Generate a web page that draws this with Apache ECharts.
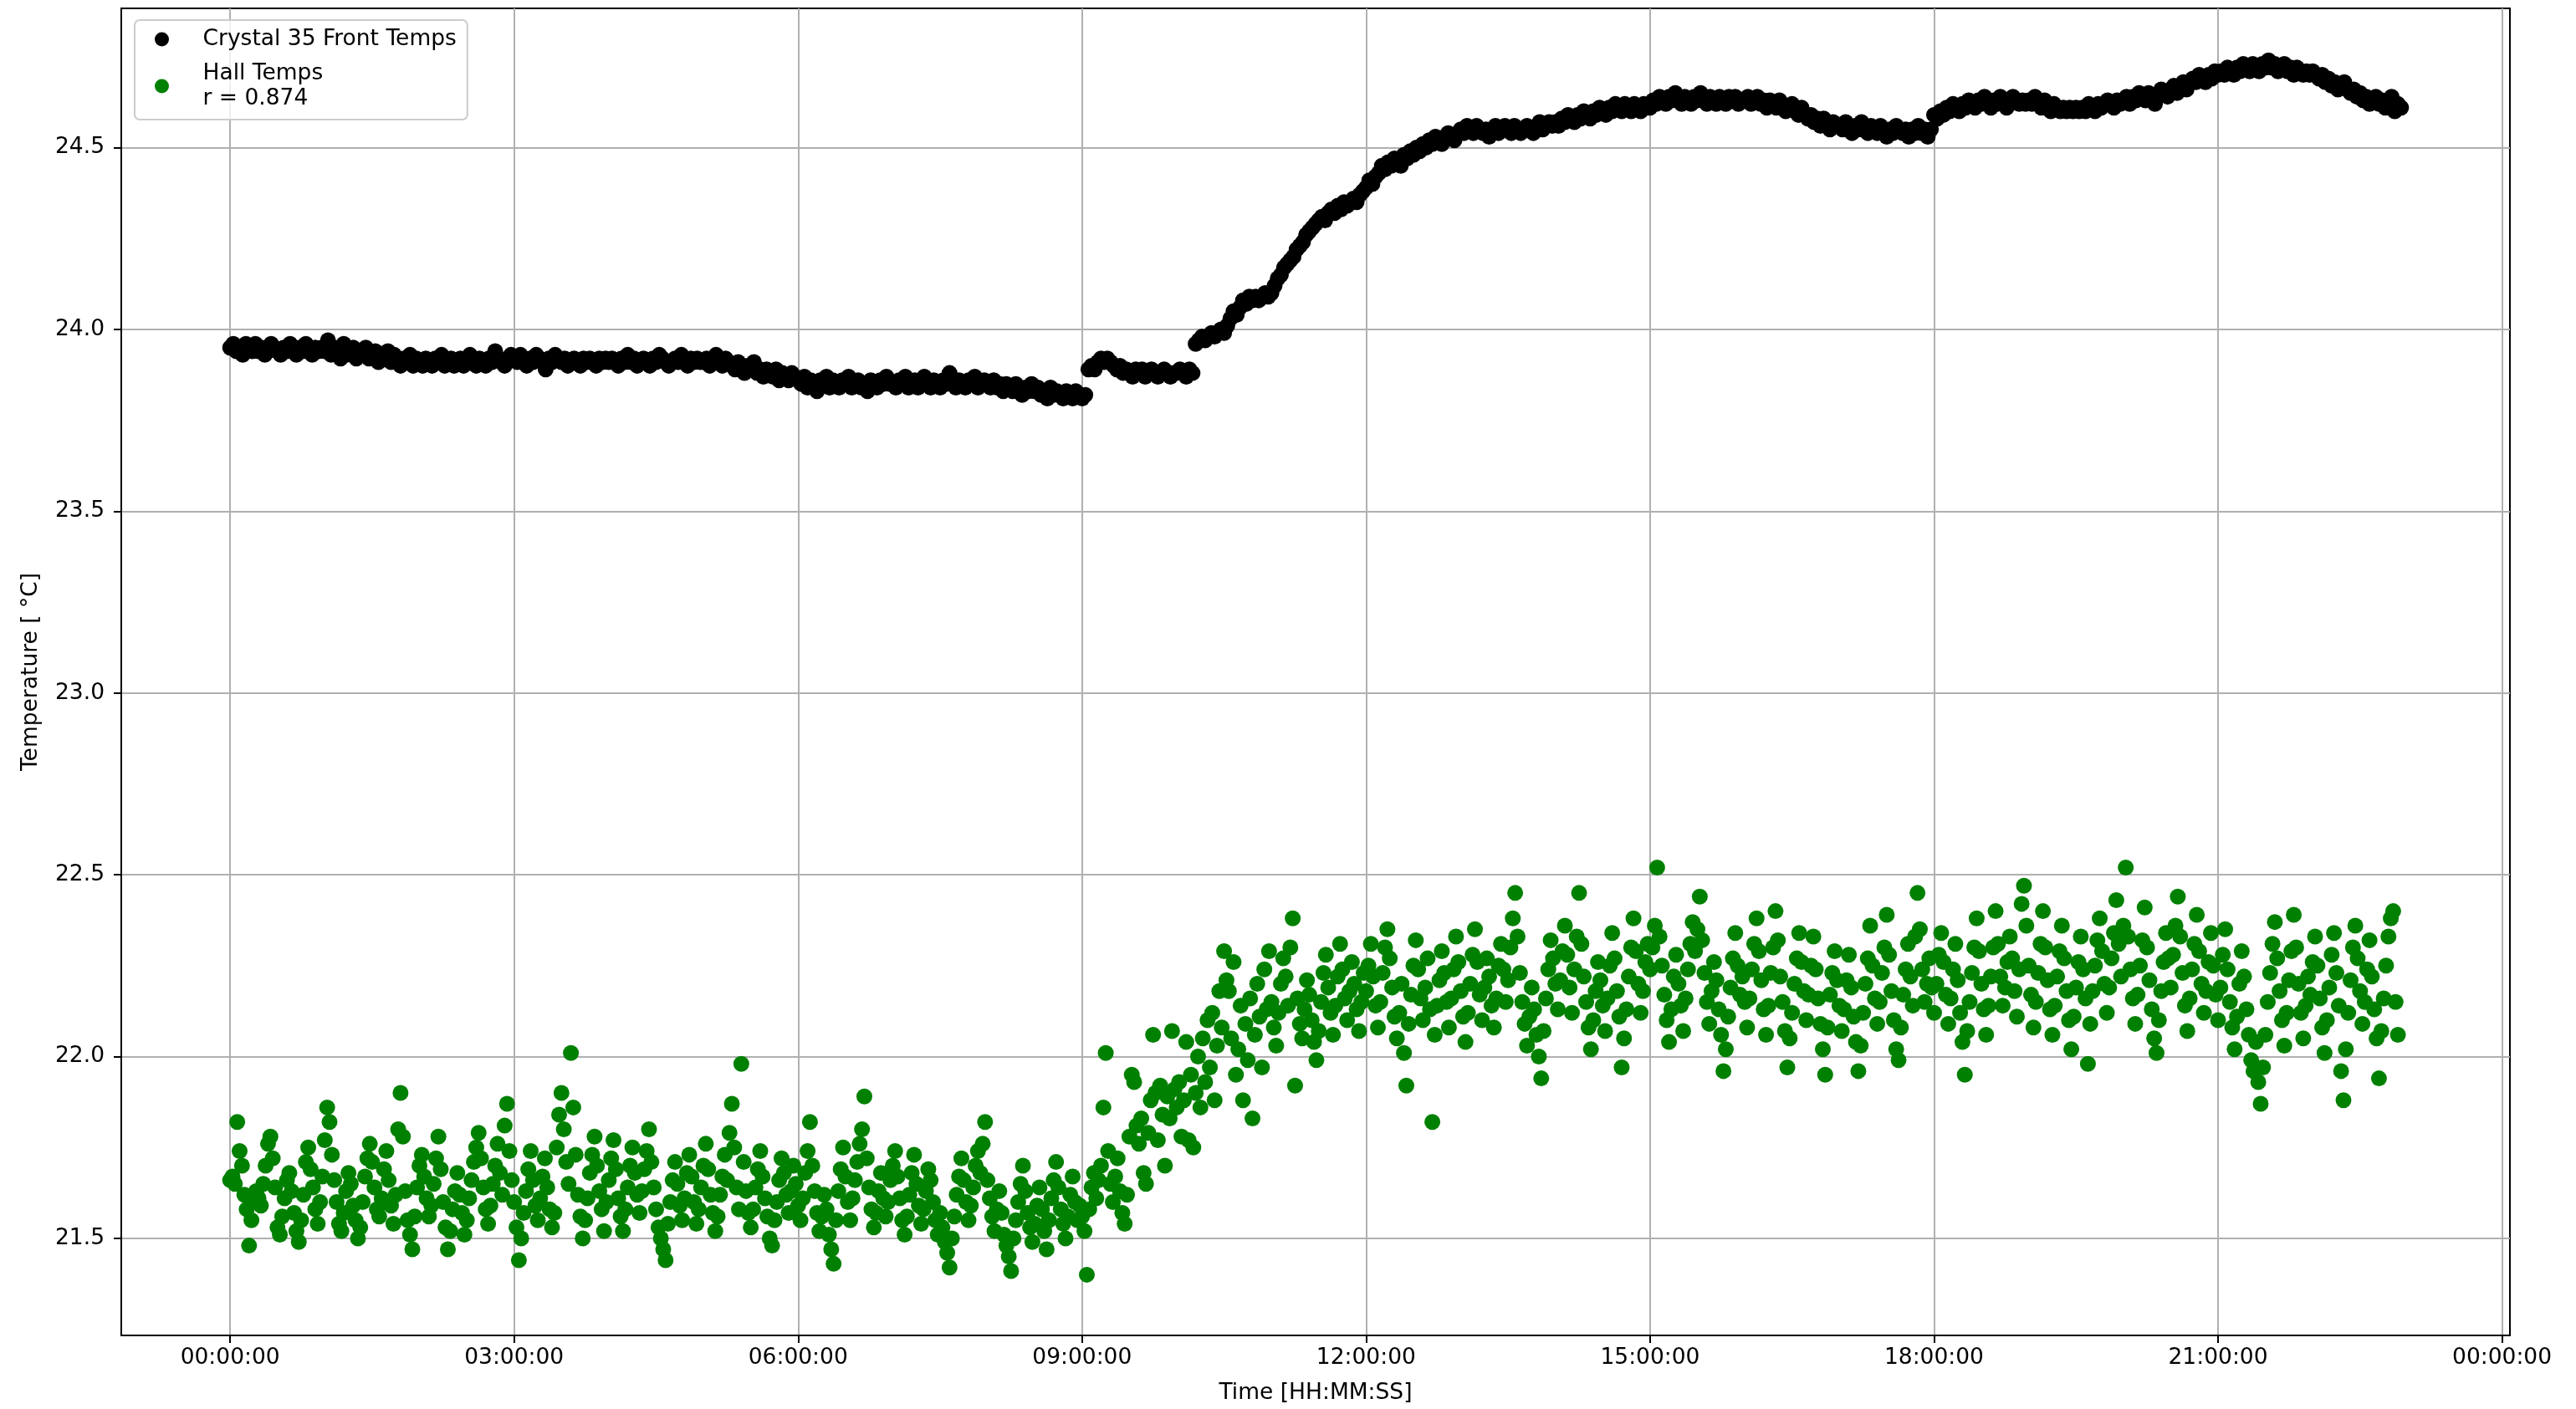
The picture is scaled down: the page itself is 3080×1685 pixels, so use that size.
<!DOCTYPE html>
<html>
<head>
<meta charset="utf-8">
<script src="https://cdn.jsdelivr.net/npm/echarts@6/dist/echarts.min.js"></script>
<style>html,body{margin:0;padding:0;background:#fff;}#c{width:3080px;height:1685px;}</style>
</head>
<body>
<div id="c"></div>
<script>
// Sampling intervals, minutes from 00:00:00
const CRYSTAL_STEP_MIN = 2;
const HALL_STEP_MIN = 1.5;

const crystalName = 'Crystal 35 Front Temps';
const hallName = 'Hall Temps\nr = 0.874';

// Crystal 35 front temperature, one row per hour (2-min samples)
const crystalTemps = [
23.95,23.96,23.94,23.95,23.93,23.96,23.95,23.94,23.96,23.94,23.95,23.93,23.94,23.96,23.95,23.94,23.93,23.95,23.94,23.96,23.94,23.93,23.95,23.94,23.96,23.94,23.93,23.95,23.94,23.95,
23.94,23.97,23.93,23.95,23.94,23.92,23.96,23.93,23.94,23.95,23.92,23.94,23.93,23.95,23.92,23.93,23.94,23.91,23.93,23.92,23.94,23.91,23.93,23.92,23.90,23.92,23.91,23.93,23.90,23.92,
23.91,23.90,23.92,23.91,23.90,23.92,23.91,23.93,23.90,23.91,23.92,23.90,23.91,23.92,23.90,23.91,23.93,23.91,23.90,23.92,23.91,23.90,23.92,23.91,23.94,23.92,23.91,23.90,23.92,23.93,
23.92,23.91,23.93,23.92,23.90,23.92,23.91,23.93,23.92,23.91,23.89,23.92,23.91,23.93,23.92,23.91,23.92,23.90,23.91,23.92,23.91,23.90,23.92,23.91,23.92,23.91,23.90,23.92,23.91,23.92,
23.91,23.92,23.91,23.90,23.92,23.91,23.93,23.91,23.92,23.90,23.91,23.92,23.91,23.90,23.92,23.91,23.93,23.92,23.91,23.90,23.91,23.92,23.91,23.93,23.91,23.90,23.92,23.91,23.92,23.91,
23.91,23.92,23.90,23.91,23.93,23.91,23.90,23.92,23.91,23.90,23.89,23.91,23.90,23.88,23.90,23.89,23.91,23.88,23.89,23.87,23.89,23.88,23.87,23.89,23.86,23.88,23.87,23.86,23.88,23.87,
23.86,23.85,23.87,23.84,23.86,23.85,23.83,23.86,23.85,23.87,23.84,23.86,23.85,23.84,23.86,23.85,23.87,23.84,23.85,23.86,23.84,23.85,23.83,23.86,23.85,23.84,23.86,23.85,23.87,23.85,
23.85,23.84,23.86,23.85,23.87,23.84,23.85,23.86,23.84,23.85,23.87,23.85,23.84,23.86,23.85,23.84,23.86,23.85,23.88,23.85,23.84,23.86,23.85,23.84,23.86,23.85,23.87,23.84,23.85,23.86,
23.85,23.84,23.86,23.84,23.85,23.83,23.85,23.84,23.83,23.85,23.84,23.82,23.84,23.83,23.85,23.83,23.84,23.82,23.83,23.81,23.84,23.82,23.83,23.82,23.81,23.83,23.82,23.81,23.83,23.82,
23.81,23.82,23.89,23.90,23.89,23.91,23.92,23.91,23.92,23.91,23.90,23.89,23.90,23.88,23.89,23.88,23.87,23.89,23.88,23.89,23.87,23.88,23.89,23.88,23.87,23.88,23.89,23.88,23.87,23.88,
23.88,23.89,23.88,23.87,23.89,23.88,23.96,23.97,23.98,23.97,23.98,23.99,23.98,23.99,24.00,23.99,24.01,24.03,24.05,24.04,24.06,24.08,24.07,24.09,24.08,24.09,24.08,24.09,24.10,24.09,
24.10,24.12,24.14,24.15,24.17,24.18,24.19,24.20,24.22,24.23,24.24,24.26,24.27,24.28,24.29,24.30,24.31,24.30,24.32,24.33,24.32,24.34,24.33,24.35,24.34,24.35,24.36,24.35,24.37,24.38,
24.39,24.41,24.40,24.42,24.43,24.45,24.44,24.46,24.45,24.47,24.46,24.45,24.48,24.47,24.49,24.48,24.50,24.49,24.51,24.50,24.52,24.51,24.53,24.52,24.51,24.53,24.54,24.53,24.52,24.54,
24.55,24.54,24.56,24.55,24.54,24.56,24.55,24.54,24.55,24.53,24.55,24.56,24.54,24.55,24.56,24.55,24.54,24.56,24.55,24.54,24.55,24.56,24.55,24.54,24.56,24.57,24.55,24.56,24.57,24.56,
24.57,24.56,24.58,24.57,24.59,24.58,24.57,24.59,24.58,24.60,24.59,24.58,24.60,24.59,24.61,24.60,24.59,24.61,24.60,24.62,24.61,24.60,24.62,24.61,24.60,24.62,24.61,24.60,24.62,24.61,
24.61,24.63,24.62,24.64,24.63,24.62,24.64,24.63,24.65,24.63,24.62,24.64,24.63,24.62,24.64,24.63,24.65,24.63,24.62,24.64,24.63,24.62,24.64,24.63,24.62,24.64,24.63,24.64,24.62,24.63,
24.63,24.64,24.62,24.63,24.64,24.62,24.63,24.61,24.63,24.62,24.61,24.63,24.62,24.60,24.61,24.62,24.60,24.59,24.61,24.59,24.58,24.59,24.57,24.58,24.56,24.58,24.57,24.55,24.57,24.56,
24.56,24.55,24.57,24.55,24.54,24.56,24.55,24.57,24.55,24.54,24.56,24.55,24.54,24.56,24.55,24.53,24.55,24.54,24.56,24.55,24.54,24.55,24.53,24.55,24.54,24.56,24.54,24.55,24.53,24.55,
24.59,24.58,24.60,24.59,24.61,24.60,24.62,24.61,24.60,24.62,24.61,24.63,24.62,24.61,24.63,24.62,24.64,24.62,24.61,24.63,24.62,24.64,24.63,24.61,24.62,24.64,24.63,24.62,24.63,24.62,
24.63,24.62,24.64,24.62,24.61,24.63,24.62,24.60,24.62,24.61,24.60,24.61,24.60,24.61,24.60,24.61,24.60,24.61,24.60,24.62,24.61,24.60,24.62,24.61,24.62,24.63,24.62,24.61,24.63,24.62,
24.63,24.64,24.62,24.64,24.63,24.65,24.64,24.63,24.65,24.64,24.62,24.64,24.66,24.65,24.64,24.66,24.67,24.65,24.67,24.68,24.66,24.68,24.69,24.68,24.70,24.69,24.68,24.70,24.69,24.71,
24.70,24.71,24.70,24.72,24.71,24.70,24.72,24.71,24.73,24.72,24.71,24.73,24.72,24.71,24.73,24.72,24.74,24.72,24.73,24.71,24.72,24.73,24.71,24.72,24.70,24.72,24.71,24.70,24.71,24.70,
24.71,24.70,24.69,24.70,24.68,24.69,24.67,24.68,24.66,24.67,24.68,24.66,24.65,24.66,24.64,24.65,24.63,24.64,24.62,24.63,24.64,24.62,24.63,24.61,24.62,24.64,24.60,24.62,24.61
];

// Hall temperature, one row per hour (1.5-min samples)
const hallTemps = [
21.66,21.67,21.65,21.82,21.74,21.70,21.62,21.58,21.48,21.55,21.60,21.63,21.61,21.59,21.65,21.70,21.76,21.78,21.72,21.64,21.53,21.51,21.56,21.61,21.66,21.68,21.63,21.57,21.52,21.49,21.55,21.62,21.71,21.75,21.69,21.64,21.58,21.54,21.60,21.67,
21.77,21.86,21.82,21.73,21.66,21.60,21.54,21.52,21.57,21.63,21.68,21.65,21.59,21.55,21.50,21.53,21.60,21.67,21.72,21.76,21.71,21.64,21.58,21.56,21.61,21.69,21.74,21.66,21.59,21.54,21.62,21.80,21.90,21.78,21.63,21.55,21.51,21.47,21.56,21.64,
21.70,21.73,21.67,21.61,21.56,21.59,21.65,21.72,21.78,21.69,21.60,21.53,21.47,21.52,21.58,21.63,21.68,21.62,21.57,21.51,21.55,21.61,21.66,21.71,21.75,21.79,21.72,21.64,21.58,21.54,21.59,21.65,21.70,21.76,21.68,21.62,21.81,21.87,21.74,21.66,
21.60,21.53,21.44,21.50,21.57,21.63,21.69,21.74,21.66,21.59,21.55,21.61,21.67,21.72,21.64,21.58,21.53,21.57,21.75,21.84,21.90,21.80,21.71,21.65,22.01,21.86,21.73,21.62,21.56,21.50,21.55,21.61,21.68,21.73,21.78,21.70,21.63,21.58,21.52,21.60,
21.66,21.72,21.77,21.69,21.61,21.56,21.52,21.58,21.64,21.70,21.75,21.68,21.62,21.57,21.63,21.69,21.74,21.80,21.71,21.64,21.58,21.53,21.50,21.47,21.44,21.54,21.60,21.66,21.71,21.65,21.59,21.55,21.61,21.68,21.73,21.67,21.60,21.54,21.58,21.64,
21.70,21.76,21.69,21.62,21.57,21.52,21.56,21.62,21.67,21.73,21.66,21.79,21.87,21.75,21.64,21.58,21.98,21.71,21.63,21.57,21.53,21.58,21.64,21.69,21.74,21.67,21.61,21.56,21.50,21.48,21.55,21.60,21.66,21.72,21.68,21.62,21.57,21.63,21.70,21.65,
21.59,21.55,21.61,21.68,21.74,21.82,21.70,21.63,21.57,21.52,21.56,21.62,21.58,21.51,21.47,21.43,21.55,21.63,21.69,21.75,21.67,21.60,21.55,21.61,21.66,21.71,21.76,21.80,21.89,21.72,21.64,21.58,21.53,21.57,21.63,21.68,21.61,21.56,21.60,21.66,
21.70,21.74,21.67,21.61,21.55,21.51,21.56,21.62,21.68,21.73,21.65,21.59,21.54,21.58,21.63,21.69,21.66,21.60,21.55,21.51,21.57,21.53,21.49,21.46,21.42,21.50,21.56,21.62,21.67,21.72,21.66,21.60,21.55,21.59,21.64,21.70,21.74,21.68,21.76,21.82,
21.66,21.61,21.56,21.52,21.58,21.63,21.57,21.51,21.48,21.45,21.41,21.50,21.55,21.60,21.65,21.70,21.63,21.57,21.53,21.49,21.54,21.59,21.64,21.58,21.52,21.47,21.55,21.61,21.66,21.71,21.64,21.58,21.54,21.50,21.56,21.62,21.67,21.60,21.55,21.59,
21.56,21.52,21.40,21.58,21.64,21.68,21.61,21.66,21.70,21.86,22.01,21.74,21.65,21.60,21.67,21.72,21.63,21.57,21.54,21.62,21.78,21.95,21.93,21.81,21.76,21.83,21.68,21.65,21.79,21.88,22.06,21.90,21.77,21.92,21.84,21.70,21.89,21.83,22.07,21.91,
21.86,21.93,21.78,21.88,22.04,21.77,21.95,21.75,21.90,22.00,21.86,22.05,21.93,22.10,21.97,22.12,21.88,22.03,22.18,22.08,22.29,22.21,22.18,22.05,22.26,21.95,22.02,22.14,21.88,22.09,21.99,22.16,21.83,22.06,22.20,22.11,21.97,22.24,22.13,22.29,
22.15,22.08,22.03,22.12,22.20,22.27,22.22,22.14,22.30,22.38,21.92,22.16,22.09,22.05,22.13,22.21,22.17,22.10,22.04,21.99,22.07,22.15,22.23,22.28,22.19,22.12,22.06,22.14,22.22,22.31,22.24,22.16,22.10,22.18,22.26,22.20,22.13,22.07,22.15,22.23,
22.18,22.25,22.31,22.22,22.14,22.08,22.15,22.23,22.30,22.35,22.27,22.19,22.11,22.05,22.12,22.20,22.01,21.92,22.09,22.17,22.25,22.32,22.24,22.16,22.10,22.19,22.27,22.13,21.82,22.06,22.14,22.21,22.29,22.23,22.15,22.08,22.16,22.24,22.33,22.26,
22.18,22.11,22.04,22.12,22.20,22.28,22.35,22.26,22.17,22.10,22.19,22.27,22.22,22.14,22.08,22.16,22.25,22.31,22.24,22.15,22.21,22.30,22.38,22.45,22.33,22.23,22.15,22.09,22.03,22.11,22.19,22.13,22.06,22.00,21.94,22.07,22.16,22.24,22.32,22.27,
22.20,22.13,22.21,22.29,22.36,22.28,22.19,22.12,22.24,22.33,22.45,22.31,22.22,22.15,22.08,22.02,22.10,22.18,22.26,22.21,22.14,22.07,22.16,22.25,22.34,22.27,22.18,22.11,21.97,22.05,22.13,22.22,22.30,22.38,22.29,22.20,22.12,22.18,22.26,22.31,
22.24,22.30,22.36,22.52,22.33,22.25,22.17,22.10,22.04,22.13,22.22,22.28,22.20,22.14,22.07,22.16,22.24,22.31,22.37,22.29,22.35,22.44,22.32,22.23,22.15,22.09,22.18,22.26,22.21,22.13,22.06,21.96,22.02,22.11,22.19,22.27,22.34,22.25,22.17,22.22,
22.15,22.08,22.16,22.24,22.31,22.38,22.29,22.21,22.13,22.06,22.14,22.23,22.30,22.40,22.32,22.22,22.15,22.07,21.97,22.05,22.12,22.20,22.27,22.34,22.26,22.18,22.10,22.17,22.25,22.33,22.24,22.16,22.09,22.02,21.95,22.08,22.17,22.23,22.29,22.21,
22.14,22.07,22.13,22.21,22.28,22.19,22.11,22.04,21.96,22.03,22.12,22.20,22.27,22.36,22.25,22.16,22.09,22.15,22.23,22.30,22.39,22.28,22.18,22.10,22.02,21.99,22.08,22.17,22.24,22.31,22.22,22.14,22.33,22.45,22.35,22.24,22.15,22.20,22.27,22.19,
22.12,22.20,22.28,22.34,22.26,22.17,22.09,22.16,22.24,22.31,22.21,22.12,22.04,21.95,22.07,22.15,22.23,22.30,22.38,22.29,22.20,22.13,22.06,22.14,22.22,22.30,22.40,22.31,22.22,22.14,22.19,22.26,22.33,22.27,22.18,22.11,22.24,22.42,22.47,22.36,
22.25,22.17,22.08,22.15,22.23,22.31,22.40,22.30,22.21,22.13,22.06,22.14,22.22,22.29,22.36,22.27,22.18,22.10,22.02,22.11,22.19,22.26,22.33,22.24,22.16,21.98,22.09,22.18,22.25,22.32,22.38,22.29,22.20,22.12,22.19,22.27,22.34,22.43,22.31,22.22,
22.36,22.52,22.33,22.24,22.16,22.09,22.17,22.25,22.32,22.41,22.30,22.21,22.13,22.05,22.01,22.10,22.18,22.26,22.34,22.27,22.19,22.28,22.36,22.44,22.33,22.23,22.14,22.07,22.16,22.24,22.31,22.39,22.29,22.20,22.12,22.18,22.26,22.34,22.25,22.17,
22.10,22.19,22.28,22.35,22.24,22.15,22.08,22.02,22.11,22.20,22.29,22.22,22.13,22.06,21.99,21.96,22.04,21.93,21.87,21.97,22.06,22.15,22.23,22.31,22.37,22.27,22.18,22.10,22.03,22.12,22.21,22.29,22.39,22.30,22.20,22.12,22.05,22.14,22.22,22.17,
22.26,22.33,22.25,22.16,22.08,22.01,22.10,22.19,22.28,22.34,22.23,22.14,21.96,21.88,22.02,22.12,22.21,22.30,22.36,22.27,22.18,22.09,22.15,22.24,22.32,22.22,22.13,22.05,21.94,22.07,22.16,22.25,22.33,22.38,22.40,22.15,22.06
];

// Axis ticks
const xTickMinutes = [0, 180, 360, 540, 720, 900, 1080, 1260, 1440];
const yTicks = [21.5, 22.0, 22.5, 23.0, 23.5, 24.0, 24.5];

const pts = (arr, step) => arr.map((v, i) => [i * step, v]);
const pad2 = n => (n < 10 ? '0' : '') + n;
const FONT = '"DejaVu Sans", sans-serif';
const FS = 26.5;

const chart = echarts.init(document.getElementById('c'), null, {renderer: 'canvas'});
chart.setOption({
  animation: false,
  backgroundColor: '#ffffff',
  grid: {
    left: 145, right: 79, top: 10, bottom: 88,
    show: true, borderColor: '#000', borderWidth: 2, backgroundColor: 'transparent'
  },
  legend: {
    orient: 'vertical',
    left: 161, top: 24,
    padding: [8, 13, 10, 24],
    itemGap: 11,
    itemWidth: 60, itemHeight: 17,
    icon: 'circle',
    backgroundColor: 'rgba(255,255,255,0.8)',
    borderColor: '#cccccc', borderWidth: 2, borderRadius: 6,
    data: [crystalName, hallName],
    textStyle: {fontFamily: FONT, fontSize: FS, color: '#000', lineHeight: 30, padding: [0, 0, 0, 14]}
  },
  xAxis: {
    type: 'value',
    min: -69, max: 1445,
    name: 'Time [HH:MM:SS]',
    nameLocation: 'middle',
    nameGap: 56,
    nameTextStyle: {fontFamily: FONT, fontSize: FS, color: '#000'},
    axisLine: {show: true, onZero: false, lineStyle: {color: '#000', width: 2}},
    axisTick: {show: true, inside: false, length: 9, lineStyle: {color: '#000', width: 2}, customValues: xTickMinutes},
    axisLabel: {
      customValues: xTickMinutes, margin: 14,
      fontFamily: FONT, fontSize: FS, color: '#000',
      formatter: v => pad2(Math.round(v / 60) % 24) + ':00:00'
    },
    splitLine: {show: true, lineStyle: {color: '#b0b0b0', width: 2}}
  },
  yAxis: {
    type: 'value',
    min: 21.233, max: 24.883,
    name: 'Temperature [ °C]',
    nameLocation: 'middle',
    nameGap: 94,
    nameRotate: 90,
    nameTextStyle: {fontFamily: FONT, fontSize: FS, color: '#000'},
    axisLine: {show: true, onZero: false, lineStyle: {color: '#000', width: 2}},
    axisTick: {show: true, inside: false, length: 9, lineStyle: {color: '#000', width: 2}, customValues: yTicks},
    axisLabel: {
      customValues: yTicks, margin: 20,
      fontFamily: FONT, fontSize: FS, color: '#000',
      formatter: v => v.toFixed(1)
    },
    splitLine: {show: true, lineStyle: {color: '#b0b0b0', width: 2}}
  },
  series: [
    {
      name: crystalName, type: 'scatter', symbol: 'circle', symbolSize: 19,
      itemStyle: {color: '#000000', opacity: 1},
      data: pts(crystalTemps, CRYSTAL_STEP_MIN)
    },
    {
      name: hallName, type: 'scatter', symbol: 'circle', symbolSize: 19,
      itemStyle: {color: '#008000', opacity: 1},
      data: pts(hallTemps, HALL_STEP_MIN)
    }
  ]
});
</script>
</body>
</html>
